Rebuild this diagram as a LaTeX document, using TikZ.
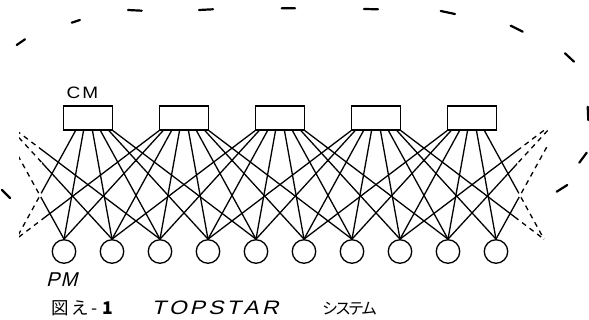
\documentclass[tikz,border=0pt]{standalone}
\usepackage{fontspec}
\setmainfont{Liberation Sans}
\newfontfamily\jpfont{Noto Sans CJK JP}
\newfontfamily\widefont{Liberation Sans}[FakeStretch=1.15]
\newfontfamily\slantfont{Liberation Sans}[FakeSlant=0.25]
\newfontfamily\wideslantfont{Liberation Sans}[FakeSlant=0.25,FakeStretch=1.18]
\usetikzlibrary{calc}

% links that wrap around the ring (drawn once solid, once dashed, under clips)
\newcommand\wrappaths[1]{%
  \draw[#1] (s0-2) -- (vpmL);
  \draw[#1] (s1-0) -- (vpmL);
  \draw[#1] (vL-5) -- (pm0.north);
  \draw[#1] (vL-6) -- (pm1.north);
  \draw[#1] (vL-7) -- (pm2.north);
  \draw[#1] (s4-5) -- (vpmR);
  \draw[#1] (s3-7) -- (vpmR);
  \draw[#1] (vR-0) -- (pm7.north);
  \draw[#1] (vR-1) -- (pm8.north);
  \draw[#1] (vR-2) -- (pm9.north);
}

\begin{document}
\begin{tikzpicture}[x=1pt,y=-1pt,
  cmbox/.style={draw, line width=1.3pt, minimum width=48.5pt, minimum height=24pt, inner sep=0pt},
  pmnode/.style={draw, circle, line width=1.3pt, minimum size=23.5pt, inner sep=0pt},
  link/.style={line width=1.3pt},
  wrap/.style={line width=1.3pt, dash pattern=on 5pt off 4.5pt},
  ring/.style={line width=2.2pt, line cap=round}]
\useasboundingbox (0,0) rectangle (589,320);

% common memories and processor modules
\foreach \i in {0,...,4}
  \node[cmbox] (cm\i) at ({88+96*\i},118) {};
\foreach \j in {0,...,9}
  \node[pmnode] (pm\j) at ({64+48*\j},251.5) {};

% attachment points along the bottom of each CM
\foreach \i in {0,...,4} {
  \foreach \n/\f in {0/0,1/0.08,2/0.25,3/0.41,4/0.59,5/0.75,6/0.92,7/1} {
    \coordinate (s\i-\n) at ($(cm\i.south west)!\f!(cm\i.south east)$);
  }
}
% neighbours across the seam of the ring
\foreach \n/\f in {0/0,1/0.08,2/0.25,3/0.41,4/0.59,5/0.75,6/0.92,7/1} {
  \coordinate (vL-\n) at ({-8-24.25+48.5*\f},130.5);
  \coordinate (vR-\n) at ({568-24.25+48.5*\f},130.5);
}
\coordinate (vpmL) at (16,239.2);
\coordinate (vpmR) at (544,239.2);

% each CM reaches its own two PMs and three on either side
\foreach \i in {0,...,4} {
  \foreach \n in {0,...,7} {
    \pgfmathtruncatemacro\j{2*\i+\n-3}
    \ifnum\j>-1 \ifnum\j<10 \draw[link] (s\i-\n) -- (pm\j.north); \fi\fi
  }
}

\begin{scope}
  \clip (42,0) rectangle (517,320);
  \wrappaths{link}
\end{scope}
\begin{scope}
  \clip (19,0) rectangle (42,320);
  \wrappaths{wrap}
\end{scope}
\begin{scope}
  \clip (517,0) rectangle (548,320);
  \wrappaths{wrap}
\end{scope}

% the ring closing the structure
\draw[ring] (2,190) -- (10,198)
  (16.7,45) -- (25,39.3)
  (71.7,22.7) -- (80,20)
  (128,10) -- (141.7,10.7)
  (199,10) -- (213,9.3)
  (281.7,8.3) -- (295,8.3)
  (364,9) -- (378,9.3)
  (440.7,11) -- (455,14)
  (510.7,25.7) -- (522.7,31.7)
  (565,53.3) -- (574,61.7)
  (587.7,106.7) -- (588.3,120)
  (579.3,162.7) -- (586.7,152.7)
  (556.7,191.7) -- (567.3,185);

% labels
\node[anchor=base west, inner sep=0] (cmlabel) at (66.5,98.3)
  {\widefont\fontsize{16.5}{16.5}\selectfont C\kern2pt M};
\node[anchor=base west, inner sep=0] (pmlabel) at (46,286.5)
  {\slantfont\fontsize{20}{20}\selectfont P\kern1pt M};
\node[anchor=base west, inner sep=0] (fignum) at (51.5,314.5)
  {\jpfont\fontsize{17.5}{17.5}\selectfont 図\kern2.5pt え\kern2pt -\kern5pt\textbf{1}};
\node[anchor=base west, inner sep=0] (figname) at (151.5,314.5)
  {\wideslantfont\fontsize{19.5}{19.5}\selectfont T\kern3pt O\kern3pt P\kern3pt S\kern3pt T\kern3pt A\kern3pt R};
\node[anchor=base west, inner sep=0] (figsys) at (322,314.5)
  {\jpfont\fontsize{16}{16}\selectfont シ\kern-3pt ス\kern-3pt テ\kern-3pt ム};
\end{tikzpicture}
\end{document}
